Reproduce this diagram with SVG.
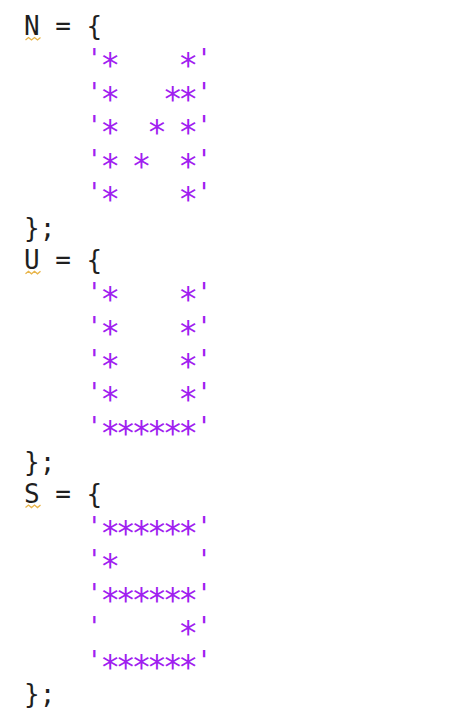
<svg xmlns="http://www.w3.org/2000/svg" width="476" height="716" viewBox="0 0 476 716">
<style>
text{font-family:"DejaVu Sans Mono","Liberation Mono",monospace;font-size:26px;fill:#1f1f1f}
.r{fill:#a020f0;text-anchor:middle}
.a{font-size:33px}
.sq{fill:none;stroke:#e8b54a;stroke-width:1.3}
</style>
<rect width="476" height="716" fill="#ffffff"/>
<g id="code" xml:space="preserve">
<text x="24" y="35">N = {</text>
<text x="24" y="236.8">};</text>
<text x="24" y="268.8">U = {</text>
<text x="24" y="470.6">};</text>
<text x="24" y="502.6">S = {</text>
<text x="24" y="703">};</text>
</g>
<g id="rows">
<text class="r" y="68.4"><tspan x="94.4">'</tspan><tspan class="a" x="110.1 188.3" dy="9">**</tspan><tspan x="204" dy="-9">'</tspan></text>
<text class="r" y="101.8"><tspan x="94.4">'</tspan><tspan class="a" x="110.1 172.7 188.3" dy="9">***</tspan><tspan x="204" dy="-9">'</tspan></text>
<text class="r" y="135.2"><tspan x="94.4">'</tspan><tspan class="a" x="110.1 157 188.3" dy="9">***</tspan><tspan x="204" dy="-9">'</tspan></text>
<text class="r" y="168.6"><tspan x="94.4">'</tspan><tspan class="a" x="110.1 141.4 188.3" dy="9">***</tspan><tspan x="204" dy="-9">'</tspan></text>
<text class="r" y="202"><tspan x="94.4">'</tspan><tspan class="a" x="110.1 188.3" dy="9">**</tspan><tspan x="204" dy="-9">'</tspan></text>
<text class="r" y="302.2"><tspan x="94.4">'</tspan><tspan class="a" x="110.1 188.3" dy="9">**</tspan><tspan x="204" dy="-9">'</tspan></text>
<text class="r" y="335.6"><tspan x="94.4">'</tspan><tspan class="a" x="110.1 188.3" dy="9">**</tspan><tspan x="204" dy="-9">'</tspan></text>
<text class="r" y="369"><tspan x="94.4">'</tspan><tspan class="a" x="110.1 188.3" dy="9">**</tspan><tspan x="204" dy="-9">'</tspan></text>
<text class="r" y="402.4"><tspan x="94.4">'</tspan><tspan class="a" x="110.1 188.3" dy="9">**</tspan><tspan x="204" dy="-9">'</tspan></text>
<text class="r" y="435.8"><tspan x="94.4">'</tspan><tspan class="a" x="110.1 125.7 141.4 157 172.7 188.3" dy="9">******</tspan><tspan x="204" dy="-9">'</tspan></text>
<text class="r" y="536"><tspan x="94.4">'</tspan><tspan class="a" x="110.1 125.7 141.4 157 172.7 188.3" dy="9">******</tspan><tspan x="204" dy="-9">'</tspan></text>
<text class="r" y="569.4"><tspan x="94.4">'</tspan><tspan class="a" x="110.1" dy="9">*</tspan><tspan x="204" dy="-9">'</tspan></text>
<text class="r" y="602.8"><tspan x="94.4">'</tspan><tspan class="a" x="110.1 125.7 141.4 157 172.7 188.3" dy="9">******</tspan><tspan x="204" dy="-9">'</tspan></text>
<text class="r" y="636.2"><tspan x="94.4">'</tspan><tspan class="a" x="188.3" dy="9">*</tspan><tspan x="204" dy="-9">'</tspan></text>
<text class="r" y="669.6"><tspan x="94.4">'</tspan><tspan class="a" x="110.1 125.7 141.4 157 172.7 188.3" dy="9">******</tspan><tspan x="204" dy="-9">'</tspan></text>
</g>
<g id="squiggles">
<path class="sq" d="M25.5 40 l3 -2.5 l3 2.5 l3 -2.5 l3 2.5 l3 -2.5"/>
<path class="sq" d="M25.5 273.8 l3 -2.5 l3 2.5 l3 -2.5 l3 2.5 l3 -2.5"/>
<path class="sq" d="M25.5 507.6 l3 -2.5 l3 2.5 l3 -2.5 l3 2.5 l3 -2.5"/>
</g>
</svg>
